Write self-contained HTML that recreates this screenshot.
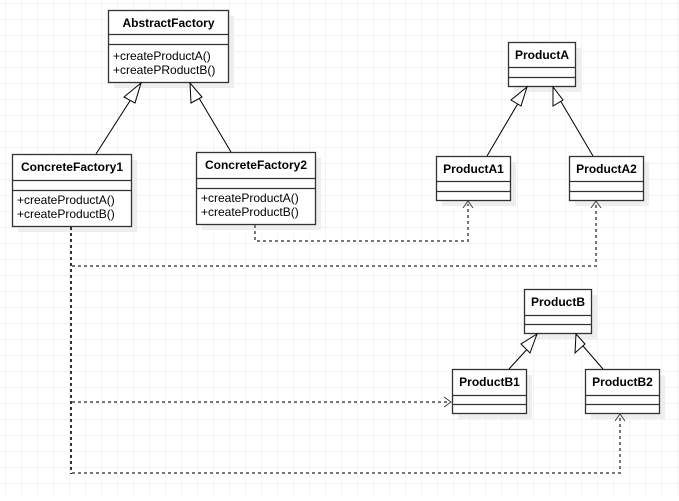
<!DOCTYPE html>
<html><head><style>
body{margin:0;background:#fff}
svg text{font-family:"Liberation Sans",Arial,sans-serif;font-size:12px;fill:#000}
</style></head><body>
<svg width="679" height="496" xmlns="http://www.w3.org/2000/svg">
<defs>
<pattern id="g" x="5" y="3" width="16" height="16" patternUnits="userSpaceOnUse">
<path d="M0 0H16M0 0V16" stroke="#e9e9e9" stroke-width="1" fill="none"/>
</pattern>
</defs>
<rect width="679" height="496" fill="url(#g)"/>
<g fill="#eeeeee">
<rect x="114" y="16" width="120" height="72"/>
<rect x="18" y="160" width="119" height="72"/>
<rect x="202" y="158" width="119" height="72"/>
<rect x="514" y="48" width="67" height="44"/>
<rect x="442" y="162" width="74" height="44"/>
<rect x="575" y="162" width="74" height="44"/>
<rect x="530" y="295" width="67" height="44"/>
<rect x="458" y="375" width="74" height="44"/>
<rect x="591" y="375" width="74" height="44"/>
</g>
<g fill="#fff" stroke="#333" stroke-width="1.3">
<rect x="108.5" y="10.5" width="120" height="72"/><path d="M108.5 34.5H228.5M108.5 44.5H228.5"/>
<rect x="12.5" y="154.5" width="119" height="72"/><path d="M12.5 180.5H131.5M12.5 190.5H131.5"/>
<rect x="196.5" y="152.5" width="119" height="72"/><path d="M196.5 178.5H315.5M196.5 188.5H315.5"/>
<rect x="508.5" y="42.5" width="67" height="44"/><path d="M508.5 67.5H575.5M508.5 77.5H575.5"/>
<rect x="436.5" y="156.5" width="74" height="44"/><path d="M436.5 181.5H510.5M436.5 191.5H510.5"/>
<rect x="569.5" y="156.5" width="74" height="44"/><path d="M569.5 181.5H643.5M569.5 191.5H643.5"/>
<rect x="524.5" y="289.5" width="67" height="44"/><path d="M524.5 315.5H591.5M524.5 324.5H591.5"/>
<rect x="452.5" y="369.5" width="74" height="44"/><path d="M452.5 395.5H526.5M452.5 404.5H526.5"/>
<rect x="585.5" y="369.5" width="74" height="44"/><path d="M585.5 395.5H659.5M585.5 404.5H659.5"/>
</g>
<g font-weight="bold" text-anchor="middle">
<text x="168.5" y="27" font-weight="bold">AbstractFactory</text>
<text x="72" y="171" font-weight="bold">ConcreteFactory1</text>
<text x="256" y="169" font-weight="bold">ConcreteFactory2</text>
<text x="542" y="59" font-weight="bold">ProductA</text>
<text x="473.5" y="173" font-weight="bold">ProductA1</text>
<text x="606.5" y="173" font-weight="bold">ProductA2</text>
<text x="558" y="306" font-weight="bold">ProductB</text>
<text x="489.5" y="386" font-weight="bold">ProductB1</text>
<text x="622.5" y="386" font-weight="bold">ProductB2</text>
</g>
<text x="113" y="60">+createProductA()</text>
<text x="113" y="74">+createPRoductB()</text>
<text x="17" y="204">+createProductA()</text>
<text x="17" y="218">+createProductB()</text>
<text x="201" y="202">+createProductA()</text>
<text x="201" y="216">+createProductB()</text>
<g stroke="#000" stroke-width="1" fill="#fff">
<path d="M96 154L135 93M231 152L196 93"/>
<path d="M141 83L124 97L135 103Z"/><path d="M190 83L191 103L202 97Z"/>
<path d="M487 156L520 100M593 156L560 100"/>
<path d="M527 87L511 100L521 106Z"/><path d="M553 87L553 106L563 100Z"/>
<path d="M509 369L530 346M603 369L583 346"/>
<path d="M537 334L521 344L530 353Z"/><path d="M576 334L575 353L585 344Z"/>
</g>
<g stroke="#333" stroke-width="2" stroke-dasharray="3,3" fill="none">
<path d="M71 227V474"/>
</g>
<g stroke="#777" stroke-width="2" stroke-dasharray="3,3" fill="none">
<path d="M255 225V241H468V204"/>
<path d="M72 266H596V204"/>
<path d="M72 402H448"/>
<path d="M72 473H620V417"/>
</g>
<g stroke="#444" stroke-width="1" fill="none">
<path d="M463 208L468 201L473 208"/>
<path d="M591 208L596 201L601 208"/>
<path d="M444 397L451 402L444 407"/>
<path d="M615 421L620 414L625 421"/>
</g>
</svg>
</body></html>
